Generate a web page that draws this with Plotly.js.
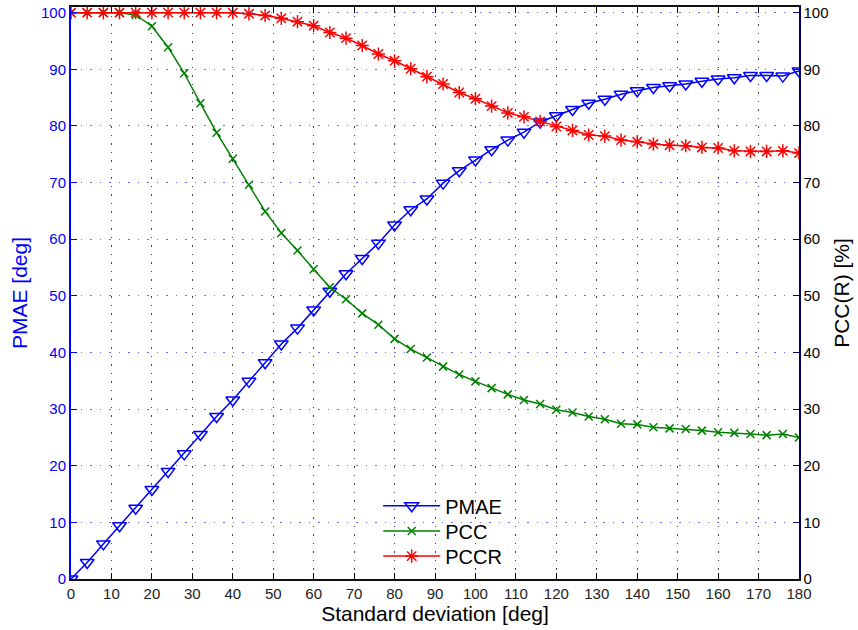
<!DOCTYPE html>
<html>
<head>
<meta charset="utf-8">
<script src="https://cdn.plot.ly/plotly-3.0.1.min.js"></script>
<style>html,body{margin:0;padding:0;background:#fff;}#chart{width:858px;height:630px;}</style>
</head>
<body>
<div id="chart"></div>
<script>
// Standard deviation [deg]
var stdDev = [0,4,8,12,16,20,24,28,32,36,40,44,48,52,56,60,64,68,72,76,80,84,88,92,96,100,104,108,112,116,120,124,128,132,136,140,144,148,152,156,160,164,168,172,176,180];
// PMAE [deg] (left axis)
var pmae = [0,2.9,6.2,9.4,12.5,15.8,19.0,22.1,25.5,28.7,31.6,34.9,38.2,41.5,44.3,47.5,50.8,53.9,56.6,59.3,62.5,65.2,67.1,69.9,72.1,74.0,75.8,77.5,78.9,80.7,81.8,82.9,84.0,84.7,85.6,86.2,86.8,87.1,87.4,87.9,88.3,88.5,88.9,88.9,88.8,89.7];
// PCC [%] (right axis)
var pcc = [100,100,100,100,99.6,97.6,93.9,89.3,84.0,78.8,74.2,69.6,64.9,61.1,58.0,54.7,51.5,49.4,46.9,44.9,42.4,40.6,39.1,37.5,36.1,34.9,33.7,32.6,31.6,30.9,29.9,29.4,28.7,28.2,27.4,27.3,26.8,26.6,26.5,26.2,25.9,25.8,25.6,25.4,25.6,25.0];
// PCCR [%] (right axis)
var pccr = [100,100,100,100,100,100,100,100,100,100,100,99.8,99.5,99.0,98.4,97.7,96.5,95.5,94.2,92.7,91.5,90.1,88.7,87.4,85.9,84.8,83.5,82.3,81.6,80.8,79.9,79.2,78.4,78.2,77.5,77.2,76.8,76.6,76.5,76.2,76.1,75.6,75.5,75.5,75.6,75.2];

var xTickVals = [0,10,20,30,40,50,60,70,80,90,100,110,120,130,140,150,160,170,180];
var xBoldTickVals = [0,20,40,60,80,100,120,140,160,180];
var yTickVals = [0,10,20,30,40,50,60,70,80,90,100];

var FONT = 'Liberation Sans, Arial, Helvetica, sans-serif';

var traces = [
  {x: stdDev, y: pmae, name: 'PMAE', type: 'scatter', mode: 'lines+markers', xaxis: 'x', yaxis: 'y', legend: 'legend',
   line: {color: '#0000ff', width: 1.5},
   marker: {symbol: 'triangle-down-open', size: 12, color: '#0000ff', line: {width: 1.5, color: '#0000ff'}}},
  {x: stdDev, y: pcc, name: 'PCC', type: 'scatter', mode: 'lines+markers', xaxis: 'x', yaxis: 'y2', legend: 'legend2',
   line: {color: '#008000', width: 1.5},
   marker: {symbol: 'x-thin-open', size: 8, color: '#008000', line: {width: 1.5, color: '#008000'}}},
  {x: stdDev, y: pccr, name: 'PCCR', type: 'scatter', mode: 'lines+markers', xaxis: 'x', yaxis: 'y2', legend: 'legend3',
   line: {color: '#ff0000', width: 1.5},
   marker: {symbol: 'asterisk-open', size: 11, color: '#ff0000', line: {width: 1.5, color: '#ff0000'}}}
];

function legendAt(yc) {
  return {x: 0.422, xanchor: 'left', y: yc, yanchor: 'middle', bgcolor: 'rgba(0,0,0,0)', borderwidth: 0,
          font: {family: FONT, size: 20, color: '#000000'}, itemwidth: 57};
}

var layout = {
  width: 858, height: 630,
  margin: {l: 71, r: 59, t: 7, b: 51, pad: 0},
  paper_bgcolor: '#ffffff', plot_bgcolor: '#ffffff',
  font: {family: FONT, size: 15, color: '#000000'},
  showlegend: true,
  legend: legendAt(0.128),
  legend2: legendAt(0.084),
  legend3: legendAt(0.040),
  xaxis: {range: [0, 180], tickvals: xTickVals, ticks: 'inside', ticklen: 6, tickwidth: 1, tickcolor: '#000',
          showline: true, linecolor: '#111', linewidth: 2, mirror: 'ticks',
          showgrid: true, gridcolor: '#444444', griddash: '1.5px,7px', gridwidth: 1, zeroline: false,
          tickfont: {family: FONT, size: 15, color: '#222'},
          title: {text: 'Standard deviation [deg]', font: {family: FONT, size: 21, color: '#000'}, standoff: 3},
          automargin: false},
  xaxis2: {range: [0, 180], overlaying: 'x', anchor: 'y', side: 'bottom', tickvals: xBoldTickVals,
           ticks: '', showline: false, showgrid: false, zeroline: false,
           tickfont: {family: FONT, size: 15, color: '#000'}, automargin: false},
  yaxis: {range: [0, 101], tickvals: yTickVals, ticks: 'inside', ticklen: 6, tickwidth: 1, tickcolor: '#0000ff',
          showline: true, linecolor: '#0000ff', linewidth: 2,
          showgrid: true, gridcolor: '#6a6aff', griddash: '1.5px,8px', gridwidth: 1, zeroline: false,
          tickfont: {family: FONT, size: 15, color: '#0000ff'},
          title: {text: 'PMAE [deg]', font: {family: FONT, size: 21, color: '#0000ff'}, standoff: 8},
          automargin: false},
  yaxis2: {range: [0, 101], overlaying: 'y', side: 'right', anchor: 'x', tickvals: yTickVals,
           ticks: 'inside', ticklen: 6, tickwidth: 1, tickcolor: '#000060',
           showline: true, linecolor: '#000060', linewidth: 1.5,
           showgrid: false, zeroline: false,
           tickfont: {family: FONT, size: 15, color: '#000'},
           title: {text: 'PCC(R) [%]', font: {family: FONT, size: 21, color: '#000'}, standoff: 7},
           automargin: false}
};

Plotly.newPlot('chart', traces, layout, {displayModeBar: false, staticPlot: true});
</script>
</body>
</html>
